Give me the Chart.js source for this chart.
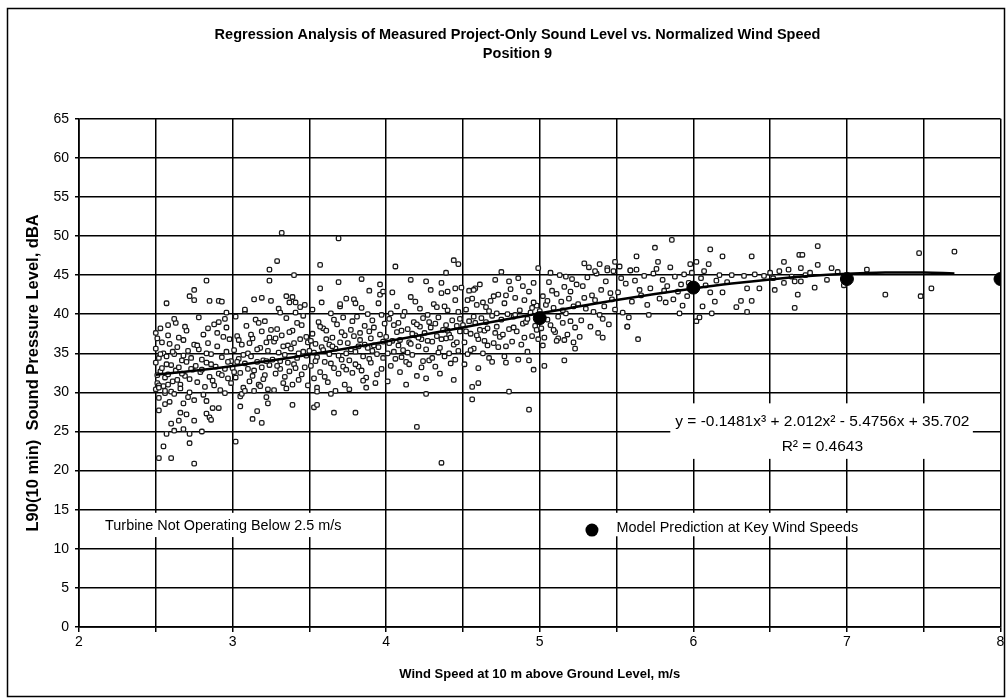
<!DOCTYPE html>
<html>
<head>
<meta charset="utf-8">
<script src="https://cdn.jsdelivr.net/npm/chart.js@4.4.0/dist/chart.umd.min.js"></script>
<style>
  html, body { margin: 0; padding: 0; background: #fff; }
  #wrap { width: 1008px; height: 698px; }
</style>
</head>
<body>
<div id="wrap"><canvas id="chart" width="1008" height="698"></canvas></div>
<script>
/* --------------------------------------------
   Data
-------------------------------------------- */
const xGrid = [2, 2.5, 3, 3.5, 4, 4.5, 5, 5.5, 6, 6.5, 7, 7.5, 8];
const xLabels = [2, 3, 4, 5, 6, 7, 8];
const yTicks = [0, 5, 10, 15, 20, 25, 30, 35, 40, 45, 50, 55, 60, 65];

// measured L90 points, [wind speed m/s, dBA], grouped by wind band
const measured25to30 = [
  [2.50,33.8],[2.51,31.2],[2.50,35.6],[2.52,34.4],[2.50,30.4],[2.53,32.7],[2.51,36.9],[2.54,33.1],[2.50,37.6],[2.52,29.3],
  [2.55,35.0],[2.56,31.9],[2.53,38.2],[2.57,34.6],[2.58,32.3],[2.55,30.8],[2.59,36.2],[2.60,33.5],[2.61,31.4],[2.58,37.3],
  [2.62,34.9],[2.63,32.8],[2.60,30.1],[2.64,35.8],[2.65,33.2],[2.66,31.0],[2.63,38.9],[2.67,34.1],[2.68,36.7],[2.69,32.1],
  [2.66,30.5],[2.70,33.9],[2.71,35.3],[2.72,31.7],[2.70,37.9],[2.73,34.4],[2.74,32.9],[2.72,30.0],[2.75,36.1],[2.51,32.2],
  [2.54,36.4],[2.57,33.6],[2.61,35.2],[2.64,31.6],[2.68,34.7],[2.52,30.9],[2.56,29.9],[2.59,28.8],[2.62,39.4],[2.65,37.0],
  [2.69,38.4],[2.73,33.0],[2.53,34.9],[2.58,31.0],[2.67,32.4],
  [2.76,33.4],[2.77,31.3],[2.78,35.5],[2.79,32.6],[2.80,34.2],[2.81,37.4],[2.82,30.7],[2.83,33.8],[2.84,36.3],[2.85,32.0],
  [2.86,34.9],[2.87,31.5],[2.88,38.7],[2.89,33.3],[2.90,35.9],[2.91,32.4],[2.92,30.3],[2.93,34.5],[2.94,37.1],[2.95,33.0],
  [2.96,35.2],[2.97,31.8],[2.98,36.8],[2.99,34.0],[2.78,39.6],[2.81,29.7],[2.84,38.2],[2.88,30.9],[2.91,39.0],[2.95,29.9],
  [2.99,31.2],[2.80,32.9],[2.86,33.6],[2.93,32.2],[2.97,33.9],[2.77,36.0],[2.83,35.0],[2.90,37.6],[2.96,38.3]
];

const measured30to35 = [
  [3.00,33.1],[3.01,35.4],[3.02,31.9],[3.03,37.2],[3.04,34.3],[3.05,32.5],[3.06,36.1],[3.07,30.6],[3.08,33.7],[3.09,38.5],
  [3.10,35.0],[3.11,31.4],[3.12,34.6],[3.13,36.9],[3.14,32.8],[3.15,39.3],[3.16,33.9],[3.17,31.0],[3.18,35.7],[3.19,37.8],
  [3.20,34.1],[3.21,32.2],[3.22,36.4],[3.23,30.4],[3.24,33.5],[3.25,38.0],[3.02,39.7],[3.05,29.5],[3.08,40.4],[3.11,36.3],
  [3.14,30.2],[3.17,38.9],[3.20,31.7],[3.23,35.3],[3.01,32.6],[3.04,36.7],[3.07,34.8],[3.10,33.0],[3.13,32.1],[3.16,35.5],
  [3.19,33.2],[3.22,34.0],[3.24,37.0],[3.03,33.9],[3.12,37.4],[3.18,30.8],[3.21,39.1],
  [3.26,34.2],[3.27,36.5],[3.28,32.4],[3.29,38.1],[3.30,35.1],[3.31,33.0],[3.32,37.3],[3.33,31.2],[3.34,34.8],[3.35,39.5],
  [3.36,36.0],[3.37,32.7],[3.38,35.6],[3.39,37.9],[3.40,33.6],[3.41,40.2],[3.42,34.4],[3.43,31.6],[3.44,36.8],[3.45,38.6],
  [3.46,35.2],[3.47,33.2],[3.48,37.1],[3.49,30.9],[3.27,30.3],[3.30,40.7],[3.33,35.9],[3.36,33.8],[3.39,31.0],[3.42,38.9],
  [3.45,32.3],[3.48,34.7],[3.28,36.9],[3.31,34.0],[3.34,32.0],[3.37,37.7],[3.40,36.3],[3.43,35.0],[3.46,39.8],[3.49,36.4],
  [3.29,33.4],[3.35,30.5],[3.41,33.1],[3.47,41.2]
];

const measured35to40 = [
  [3.50,35.3],[3.51,33.4],[3.52,37.5],[3.53,31.8],[3.54,36.2],[3.55,34.5],[3.56,39.0],[3.57,32.6],[3.58,35.8],[3.59,38.2],
  [3.60,33.9],[3.61,36.8],[3.62,31.3],[3.63,34.9],[3.64,40.1],[3.65,37.0],[3.66,33.1],[3.67,35.6],[3.68,38.7],[3.69,32.4],
  [3.70,36.4],[3.71,34.2],[3.72,39.6],[3.73,31.0],[3.74,35.0],[3.52,40.6],[3.55,30.6],[3.58,41.5],[3.61,37.9],[3.64,33.7],
  [3.67,30.2],[3.70,41.0],[3.73,37.3],[3.51,36.6],[3.54,34.0],[3.57,38.4],[3.60,32.0],[3.63,36.1],[3.66,39.3],[3.69,34.7],
  [3.72,33.3],[3.53,35.1],[3.59,35.4],[3.65,35.9],[3.71,37.7],[3.74,32.9],
  [3.75,36.3],[3.76,34.1],[3.77,38.0],[3.78,32.5],[3.79,37.2],[3.80,35.2],[3.81,39.7],[3.82,33.3],[3.83,36.7],[3.84,40.8],
  [3.85,34.6],[3.86,38.5],[3.87,31.9],[3.88,35.7],[3.89,37.8],[3.90,33.8],[3.91,39.2],[3.92,36.0],[3.93,31.2],[3.94,34.9],
  [3.95,41.4],[3.96,37.4],[3.97,33.0],[3.98,36.5],[3.99,38.8],[3.76,30.4],[3.79,41.9],[3.82,35.9],[3.85,31.5],[3.88,40.0],
  [3.91,35.3],[3.94,32.3],[3.97,39.9],[3.77,35.5],[3.80,33.6],[3.83,37.6],[3.86,36.1],[3.89,34.3],[3.92,38.3],[3.95,35.8],
  [3.98,34.4],[3.78,39.1],[3.84,32.8],[3.90,36.9],[3.96,42.5]
];

const measured40to45 = [
  [4.00,37.1],[4.01,35.0],[4.02,39.4],[4.03,33.4],[4.04,36.6],[4.05,38.6],[4.06,34.3],[4.07,41.0],[4.08,36.0],[4.09,32.6],
  [4.10,37.9],[4.11,35.4],[4.12,40.3],[4.13,33.9],[4.14,38.1],[4.15,36.4],[4.16,42.2],[4.17,34.8],[4.18,39.0],[4.19,37.3],
  [4.20,32.1],[4.21,35.9],[4.22,40.7],[4.23,36.8],[4.24,34.0],[4.01,31.4],[4.04,42.8],[4.07,37.7],[4.10,34.5],[4.13,31.0],
  [4.16,36.2],[4.19,41.6],[4.22,38.4],[4.02,36.3],[4.05,35.2],[4.08,38.9],[4.11,39.8],[4.14,35.1],[4.17,37.5],[4.20,38.7],
  [4.23,33.2],[4.03,40.1],[4.09,36.7],[4.15,33.6],[4.21,37.0],[4.24,39.5],
  [4.25,37.6],[4.26,35.5],[4.27,39.9],[4.28,34.1],[4.29,38.3],[4.30,36.5],[4.31,41.3],[4.32,33.3],[4.33,37.2],[4.34,39.6],
  [4.35,35.7],[4.36,42.7],[4.37,38.0],[4.38,34.6],[4.39,36.9],[4.40,40.5],[4.41,37.4],[4.42,33.7],[4.43,39.2],[4.44,36.1],
  [4.45,41.8],[4.46,38.5],[4.47,35.3],[4.48,37.8],[4.49,43.4],[4.26,31.8],[4.29,43.1],[4.32,38.8],[4.35,32.4],[4.38,41.0],
  [4.41,35.0],[4.44,31.6],[4.47,40.3],[4.27,36.6],[4.30,34.4],[4.33,40.9],[4.36,36.8],[4.39,38.6],[4.42,37.0],[4.45,34.2],
  [4.48,39.4],[4.28,39.0],[4.34,35.1],[4.40,37.9],[4.46,36.4]
];

const measured45to55 = [
  [4.50,38.6],[4.51,36.4],[4.52,40.6],[4.53,34.9],[4.54,39.1],[4.55,37.5],[4.56,42.0],[4.57,35.6],[4.58,38.9],[4.59,41.2],
  [4.60,36.8],[4.61,43.8],[4.62,39.5],[4.63,35.0],[4.64,37.9],[4.65,40.9],[4.66,38.2],[4.67,34.4],[4.68,41.7],[4.69,39.8],
  [4.70,36.3],[4.71,44.4],[4.72,38.4],[4.73,42.5],[4.74,37.1],[4.51,33.6],[4.54,43.0],[4.57,39.7],[4.60,33.1],[4.63,41.5],
  [4.66,36.0],[4.69,33.9],[4.72,40.1],[4.52,37.8],[4.55,35.4],[4.58,43.3],[4.61,38.0],[4.64,36.6],[4.67,40.4],[4.70,42.3],
  [4.73,35.8],[4.53,41.8],[4.59,37.3],[4.65,39.0],[4.71,37.6],
  [4.75,39.3],[4.76,37.4],[4.77,41.4],[4.78,35.9],[4.79,40.0],[4.80,38.1],[4.81,43.2],[4.82,36.5],[4.83,39.7],[4.84,42.1],
  [4.85,37.8],[4.86,44.6],[4.87,40.5],[4.88,36.1],[4.89,38.8],[4.90,41.8],[4.91,39.0],[4.92,35.2],[4.93,42.9],[4.94,40.2],
  [4.95,37.2],[4.96,44.0],[4.97,38.5],[4.98,41.1],[4.99,36.8],[4.77,34.6],[4.80,44.2],[4.83,38.3],[4.86,34.2],[4.89,43.6],
  [4.92,39.4],[4.95,40.8],[4.98,38.0],[4.78,42.4],[4.84,39.9],[4.90,37.0],[4.96,41.5],
  [5.00,40.4],[5.01,38.2],[5.02,42.3],[5.03,37.0],[5.04,41.2],[5.05,39.3],[5.06,44.1],[5.07,38.6],[5.08,43.0],[5.09,40.8],
  [5.10,37.7],[5.11,42.6],[5.12,39.7],[5.13,45.0],[5.14,41.6],[5.15,38.9],[5.16,43.5],[5.17,40.1],[5.18,37.4],[5.19,42.0],
  [5.20,39.1],[5.21,44.5],[5.22,41.0],[5.23,38.3],[5.24,43.8],[5.02,36.0],[5.07,45.3],[5.12,36.9],[5.17,44.8],[5.22,36.4],
  [5.05,41.7],[5.15,40.5],[5.20,42.9],[5.09,38.0],
  [5.25,41.3],[5.27,39.2],[5.28,43.6],[5.30,40.7],[5.31,44.7],[5.33,38.4],[5.34,42.4],[5.36,41.8],[5.37,45.2],[5.39,39.9],
  [5.40,43.1],[5.42,41.0],[5.43,44.2],[5.45,38.7],[5.46,42.7],[5.48,45.5],[5.49,40.6],[5.26,37.1],[5.32,46.0],[5.38,37.6],
  [5.44,45.9],[5.29,42.1],[5.35,40.3],[5.41,39.4],[5.47,41.9]
];

const measured55to80 = [
  [5.51,42.8],[5.53,44.6],[5.54,40.2],[5.56,43.9],[5.57,38.4],[5.59,45.6],[5.60,41.6],[5.62,44.3],[5.63,45.7],[5.64,36.8],
  [5.66,42.4],[5.68,44.9],[5.70,41.2],[5.72,43.3],[5.74,45.2],[5.75,48.5],[5.77,46.7],[5.78,42.0],[5.80,44.4],[5.82,41.5],
  [5.83,43.6],[5.85,46.0],[5.86,49.5],[5.88,44.8],[5.90,42.9],[5.91,40.1],[5.93,41.1],[5.94,45.1],[5.96,42.3],[5.97,44.0],
  [5.99,45.3],[5.52,46.1],[5.58,39.6],[5.65,43.1],[5.71,39.9],[5.76,45.8],[5.81,43.0],[5.87,41.9],[5.92,43.8],[5.98,46.4],
  [6.02,46.7],[6.02,39.1],[6.04,39.6],[6.05,44.6],[6.06,41.0],[6.07,45.5],[6.08,43.7],[6.10,46.4],[6.11,48.3],[6.11,42.8],
  [6.12,40.1],[6.14,41.6],[6.15,44.3],[6.17,45.0],[6.19,47.4],[6.19,42.8],[6.22,44.1],[6.25,45.0],[6.28,40.9],[6.31,41.7],
  [6.33,44.9],[6.35,43.3],[6.35,40.3],[6.38,47.4],[6.38,41.7],[6.40,45.1],[6.43,43.3],[6.46,44.9],[6.50,45.3],[6.53,43.1],
  [6.52,44.6],[6.56,45.5],[6.59,46.7],[6.59,44.0],[6.62,45.7],[6.64,44.8],[6.66,44.2],[6.66,40.8],[6.68,42.5],[6.69,47.6],
  [6.70,45.9],[6.71,47.6],[6.70,44.2],[6.73,45.0],[6.76,45.3],[6.79,43.4],[6.81,48.7],[6.81,46.3],[6.87,44.4],[6.90,45.9],
  [6.94,45.4],[6.98,43.7],[7.13,45.7],[7.25,42.5],[7.47,47.8],[7.48,42.3],[7.55,43.3],[7.70,48.0]
];

const measuredOutliers = [
  [3.32,50.4],[3.29,46.8],[3.24,45.7],[3.24,44.3],[3.40,45.0],[2.83,44.3],[2.75,43.1],[2.72,42.3],[2.75,41.8],[2.57,41.4],
  [2.85,41.7],[2.91,41.7],[2.93,41.6],[3.14,41.9],[3.19,42.1],[3.25,41.7],[3.08,40.6],[3.35,42.3],[3.39,42.2],[3.37,41.5],
  [3.41,41.5],[3.44,40.9],[3.31,40.2],[2.96,40.2],[2.95,39.4],[2.58,38.6],
  [2.56,28.5],[2.52,27.7],[2.68,28.6],[2.66,27.4],[2.70,27.2],[2.75,26.4],[2.65,26.4],[2.60,26.0],[2.62,25.1],[2.57,24.7],
  [2.68,25.3],[2.72,24.7],[2.80,25.0],[2.72,23.5],[2.55,23.1],[2.52,21.6],[2.60,21.6],[2.75,20.9],[3.02,23.7],[2.83,28.9],
  [2.87,28.0],[2.91,28.0],[2.83,27.3],[2.85,26.8],[2.86,26.5],[2.75,29.0],[2.71,29.4],[3.05,28.2],[3.16,27.6],[3.13,26.6],
  [3.19,26.1],[3.23,28.6],[3.39,28.4],[3.53,28.1],[3.22,29.4],[3.06,29.8],[3.08,30.2],[2.52,30.6],[2.56,30.2],[2.62,29.8],
  [3.69,49.7],[3.57,46.3],[4.06,46.1],[4.44,46.9],[4.47,46.4],[4.39,45.3],[3.69,44.1],[3.84,44.5],[3.57,43.3],[3.70,41.3],
  [3.74,42.0],[3.80,41.4],[3.89,43.0],[3.96,43.8],[3.98,42.9],[4.16,44.4],[4.26,44.2],[4.36,44.0],[4.40,42.9],[4.45,43.3],
  [4.57,43.1],[3.55,28.4],[3.66,27.4],[3.80,27.4],[3.87,30.6],[4.26,29.8],[4.20,25.6],[4.56,29.1],[4.56,30.7],[4.36,21.0],
  [3.55,30.1],[3.64,29.8],
  [5.29,46.5],[5.39,46.4],[5.49,46.7],[5.63,47.4],[4.99,45.9],[5.36,45.5],[5.44,45.6],[5.59,45.6],[4.75,45.4],[5.57,38.4],
  [5.41,37.0],[5.23,35.6],[5.16,36.7],[5.11,36.6],[5.16,34.1],[5.03,33.4],[4.96,32.9],[4.93,34.1],[4.78,33.8],[4.60,31.2],
  [4.80,30.1],[4.93,27.8]
];

// regression curve as drawn (cubic trendline)
const trendX = [2.5, 2.75, 3, 3.25, 3.5, 3.75, 4, 4.25, 4.5, 4.75, 5, 5.25, 5.5, 5.75, 6, 6.25, 6.5, 6.75, 7, 7.25, 7.5, 7.7];
const trendY = [32.27, 32.78, 33.39, 34.07, 34.84, 35.65, 36.51, 37.40, 38.31, 39.22, 40.11, 40.98, 41.81, 42.58, 43.29, 43.92, 44.45, 44.87, 45.16, 45.32, 45.33, 45.22];

// model prediction at key wind speeds
const predX = [5, 6, 7, 8];
const predY = [39.5, 43.4, 44.5, 44.5];

const chartTitle = ["Regression Analysis of Measured Project-Only Sound Level vs. Normalized Wind Speed", "Position 9"];
const xTitle = "Wind Speed at 10 m above Ground Level, m/s";
const yTitle = "L90(10 min)  Sound Pressure Level, dBA";
const equationText = "y = -0.1481x³ + 2.012x² - 5.4756x + 35.702";
const r2Text = "R² = 0.4643";
const turbineText = "Turbine Not Operating Below 2.5 m/s";
const modelText = "Model Prediction at Key Wind Speeds";

/* --------------------------------------------
   Helpers
-------------------------------------------- */
const FONT = "'Liberation Sans', Arial, sans-serif";

const toPoints = (rows) => rows.map(([x, y]) => ({ x, y }));

const measuredAll = [
  ...measured25to30, ...measured30to35, ...measured35to40,
  ...measured40to45, ...measured45to55, ...measured55to80, ...measuredOutliers,
];

/* --------------------------------------------
   Notes plugin: text boxes, legend dot, frame
-------------------------------------------- */
const notesPlugin = {
  id: "notes",
  beforeDatasetsDraw(chart) {
    const { ctx, scales: { x, y } } = chart;
    const box = (x0, x1, y0, y1) => {
      const l = x.getPixelForValue(x0), r = x.getPixelForValue(x1);
      const t = y.getPixelForValue(y1), b = y.getPixelForValue(y0);
      ctx.fillStyle = "#fff";
      ctx.fillRect(l, t, r - l, b - t);
    };
    ctx.save();
    box(2.14, 3.75, 11.5, 14.6);
    box(5.27, 7.10, 11.6, 14.6);
    box(5.85, 7.82, 21.5, 28.6);

    ctx.fillStyle = "#000";
    ctx.font = `14.4px ${FONT}`;
    ctx.textBaseline = "middle";
    ctx.textAlign = "left";
    ctx.fillText(turbineText, x.getPixelForValue(2.17), y.getPixelForValue(12.9));
    ctx.fillText(modelText, x.getPixelForValue(5.50), y.getPixelForValue(12.6));

    ctx.font = `15.5px ${FONT}`;
    ctx.textAlign = "center";
    ctx.fillText(equationText, x.getPixelForValue(6.84), y.getPixelForValue(26.2));
    ctx.fillText(r2Text, x.getPixelForValue(6.84), y.getPixelForValue(23.1));

    // legend marker for model prediction
    ctx.beginPath();
    ctx.arc(x.getPixelForValue(5.34), y.getPixelForValue(12.4), 6.5, 0, Math.PI * 2);
    ctx.fill();
    ctx.restore();
  },
  afterDraw(chart) {
    const { ctx } = chart;
    ctx.save();
    ctx.strokeStyle = "#000";
    ctx.lineWidth = 1.5;
    ctx.strokeRect(7.5, 8.5, 997, 688);
    ctx.restore();
  },
};

/* --------------------------------------------
   Chart
-------------------------------------------- */
new Chart(document.getElementById("chart"), {
  type: "scatter",
  data: {
    datasets: [
      {
        label: "Model Prediction",
        data: predX.map((v, i) => ({ x: v, y: predY[i] })),
        pointRadius: 6.5,
        pointBackgroundColor: "#000",
        pointBorderColor: "#000",
        order: 0,
      },
      {
        label: "Trend",
        type: "line",
        data: trendX.map((v, i) => ({ x: v, y: trendY[i] })),
        borderColor: "#000",
        borderWidth: 2.5,
        pointRadius: 0,
        tension: 0.4,
        fill: false,
        order: 1,
      },
      {
        label: "Measured",
        data: toPoints(measuredAll),
        pointStyle: "rectRounded",
        pointRadius: 2.6,
        pointBorderWidth: 1.3,
        pointBorderColor: "#1a1a1a",
        pointBackgroundColor: "#fff",
        order: 2,
      },
    ],
  },
  options: {
    responsive: false,
    devicePixelRatio: 1,
    animation: false,
    // left padding shifts the centred title to the right, as in the original
    layout: { padding: { left: 34, right: 7, top: 0, bottom: 0 } },
    plugins: {
      legend: { display: false },
      tooltip: { enabled: false },
      title: {
        display: true,
        text: chartTitle,
        color: "#000",
        font: { family: FONT, size: 14.5, weight: "bold", lineHeight: 1.3 },
        padding: { top: 26, bottom: 55 },
      },
    },
    scales: {
      x: {
        type: "linear",
        min: 2,
        max: 8,
        afterBuildTicks: (s) => { s.ticks = xGrid.map((v) => ({ value: v })); },
        afterFit: (s) => { s.height = 71; },
        ticks: {
          autoSkip: false,
          maxRotation: 0,
          padding: 2,
          color: "#000",
          font: { family: FONT, size: 14 },
          callback: (v) => (xLabels.includes(v) ? String(v) : ""),
        },
        grid: { color: "#000", lineWidth: 1.5, tickLength: 5 },
        border: { color: "#000", width: 1.7 },
        title: {
          display: true,
          text: xTitle,
          color: "#000",
          font: { family: FONT, size: 13, weight: "bold" },
          padding: { top: 0, bottom: 16 },
        },
      },
      y: {
        type: "linear",
        min: 0,
        max: 65,
        afterBuildTicks: (s) => { s.ticks = yTicks.map((v) => ({ value: v })); },
        afterFit: (s) => { s.width = 45; },
        ticks: {
          padding: 6,
          color: "#000",
          font: { family: FONT, size: 14 },
        },
        grid: { color: "#000", lineWidth: 1.5, tickLength: 4 },
        border: { color: "#000", width: 1.7 },
        title: {
          display: true,
          text: yTitle,
          color: "#000",
          font: { family: FONT, size: 16.5, weight: "bold" },
          padding: { top: -10, bottom: 0 },
        },
      },
    },
  },
  plugins: [notesPlugin],
});
</script>
</body>
</html>
